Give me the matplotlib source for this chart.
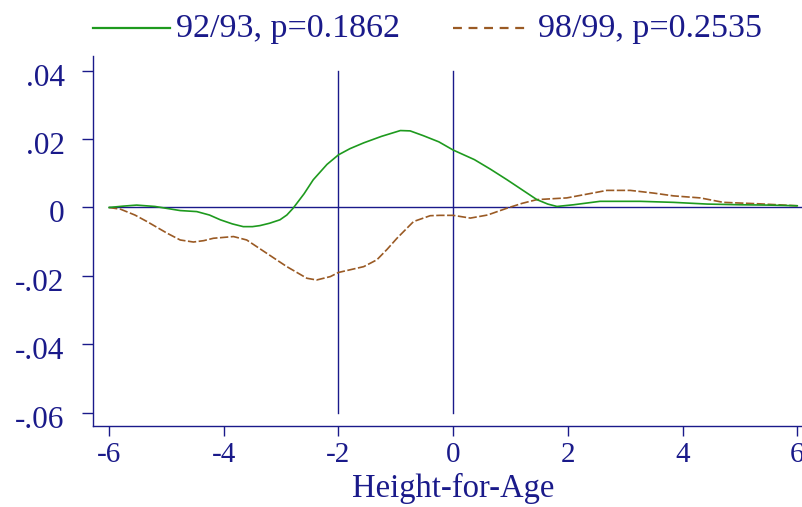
import matplotlib
matplotlib.use("Agg")
import matplotlib.pyplot as plt
from matplotlib.lines import Line2D
from matplotlib.transforms import ScaledTranslation

# ---- data ----
x_9293 = [-6.0, -5.75, -5.52, -5.2, -4.76, -4.47, -4.25, -4.06, -3.85, -3.66, -3.5, -3.37, -3.2,
          -3.02, -2.9, -2.79, -2.6, -2.44, -2.2, -2.0, -1.8, -1.56, -1.25, -0.92, -0.75, -0.52,
          -0.25, 0.0, 0.37, 0.65, 0.94, 1.2, 1.46, 1.65, 1.81, 2.1, 2.56, 3.26, 3.84, 4.43, 5.0, 5.5, 6.0]
y_9293 = [0.0, 0.0004, 0.0007, 0.0003, -0.0009, -0.0012, -0.0022, -0.0036, -0.0048, -0.0056, -0.0056,
          -0.0053, -0.0046, -0.0036, -0.0022, -0.0002, 0.0040, 0.0081, 0.0126, 0.0154, 0.0172, 0.0189,
          0.0208, 0.0225, 0.0224, 0.0210, 0.0192, 0.0168, 0.0140, 0.0112, 0.0081, 0.0052, 0.0023,
          0.0010, 0.0003, 0.0008, 0.0018, 0.0018, 0.0015, 0.0010, 0.0008, 0.0007, 0.0005]

x_9899 = [-6.0, -5.8, -5.55, -5.34, -4.99, -4.76, -4.53, -4.35, -4.18, -3.83, -3.6, -3.25, -2.9,
          -2.55, -2.38, -2.14, -2.0, -1.56, -1.33, -1.15, -0.98, -0.69, -0.4, -0.23, 0.0, 0.3,
          0.6, 0.94, 1.2, 1.46, 1.98, 2.3, 2.68, 3.09, 3.5, 3.84, 4.31, 4.71, 5.3, 6.0]
y_9899 = [0.0, -0.0005, -0.0022, -0.0041, -0.0075, -0.0095, -0.0101, -0.0097, -0.0090, -0.0085,
          -0.0095, -0.0134, -0.0173, -0.0207, -0.0212, -0.0202, -0.0190, -0.0173, -0.0153, -0.0122,
          -0.0090, -0.0041, -0.0024, -0.0023, -0.0023, -0.0031, -0.0022, -0.0002, 0.0012, 0.0023,
          0.0028, 0.0038, 0.0050, 0.0050, 0.0042, 0.0034, 0.0028, 0.0015, 0.0011, 0.0005]

label_9293 = "92/93, p=0.1862"
label_9899 = "98/99, p=0.2535"
xticks = [-6, -4, -2, 0, 2, 4, 6]
xtick_labels = ["-6", "-4", "-2", "0", "2", "4", "6"]
yticks = [0.04, 0.02, 0.0, -0.02, -0.04, -0.06]
ytick_labels = [".04", ".02", "0", "-.02", "-.04", "-.06"]
vlines_x = [-2, 0]
xlabel = "Height-for-Age"

# ---- style ----
navy = "#1a1a8a"
green = "#1e9a1e"
brown = "#9a5a24"
dash = (0, (5, 1.5))
plt.rcParams["font.family"] = ["Liberation Serif", "DejaVu Serif"]

W, H = 803, 507
fig = plt.figure(figsize=(W / 100, H / 100), dpi=100)
ax = fig.add_axes([93 / W, 1 - 426 / H, 1 - 93 / W, (426 - 56) / H])

ax.axhline(0, xmin=(-6 + 6.28) / 12.38, xmax=1, color=navy, lw=1.0, zorder=1)
for xv in vlines_x:
    ax.plot([xv, xv], [-0.06, 0.04], color=navy, lw=1.0, zorder=1)

ax.plot(x_9293, y_9293, color=green, lw=1.2, zorder=3)
ax.plot(x_9899, y_9899, color=brown, lw=1.2, linestyle=dash, zorder=2)

ax.set_xlim(-6.28, 6.1)
ax.set_ylim(-0.0639, 0.0443)
ax.set_xticks(xticks)
ax.set_xticklabels(xtick_labels)
ax.set_yticks(yticks)
ax.set_yticklabels(ytick_labels)

for s in ["top", "right"]:
    ax.spines[s].set_visible(False)
for s in ["left", "bottom"]:
    ax.spines[s].set_color(navy)
    ax.spines[s].set_linewidth(1.0)
ax.tick_params(axis="both", colors=navy, labelcolor=navy, width=1.0, direction="out")
ax.tick_params(axis="x", length=7.2, pad=4.5, labelsize=21)
ax.tick_params(axis="y", length=8, pad=12.5, labelsize=22.5)
offset = ScaledTranslation(0, -4 / 100, fig.dpi_scale_trans)
for lab in ax.get_yticklabels():
    lab.set_transform(lab.get_transform() + offset)

fig.text(453 / W, 1 - 497 / H, xlabel, color=navy, fontsize=23.5, ha="center", va="baseline")

# legend drawn manually at the top
leg_y = 1 - 27.5 / H
base_y = 1 - 37 / H
fig.add_artist(Line2D([93 / W, 170 / W], [leg_y, leg_y], transform=fig.transFigure,
                      color=green, lw=1.6))
fig.text(176 / W, base_y, label_9293, color=navy, fontsize=24.5, ha="left", va="baseline")
fig.add_artist(Line2D([453 / W, 528 / W], [leg_y, leg_y], transform=fig.transFigure,
                      color=brown, lw=1.6, linestyle=(0, (4, 3))))
fig.text(538 / W, base_y, label_9899, color=navy, fontsize=24.5, ha="left", va="baseline")

fig.savefig("out.png", dpi=100)
